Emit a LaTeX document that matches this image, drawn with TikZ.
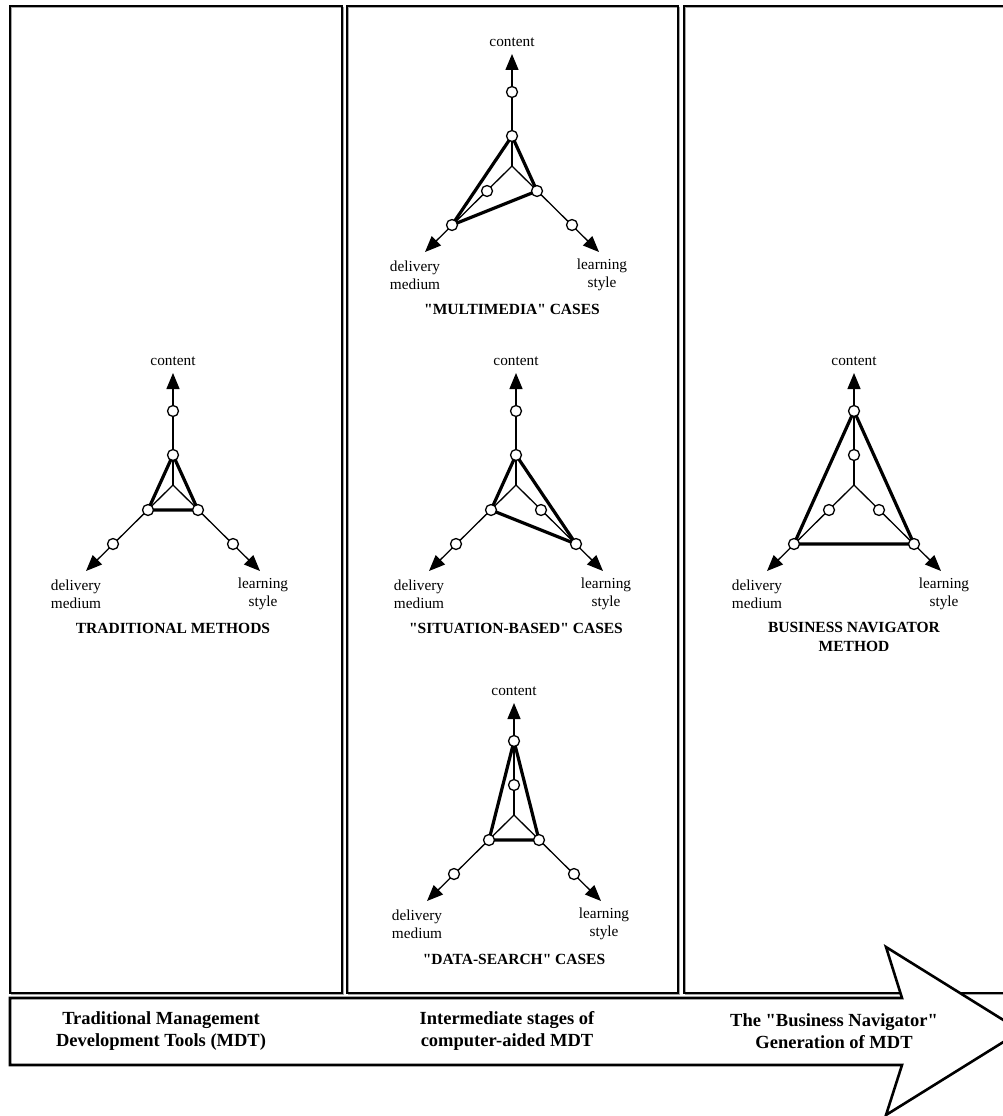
\documentclass[tikz,border=0pt]{standalone}
\usepackage{fontspec}
% a family without TeX ligature mapping, so " stays a straight quote
\newfontfamily\tnr{Liberation Serif}
\usetikzlibrary{arrows.meta}

% One three-axis profile: name, centre x, centre y, content level,
% delivery level, learning level, caption, caption offset
\newcommand\radarplot[8]{%
\begin{scope}[shift={(#2,#3)}]
  \coordinate (#1-o) at (0,0);
  \coordinate (#1-c1) at (0,-30);  \coordinate (#1-c2) at (0,-74);  \coordinate (#1-ct) at (0,-112);
  \coordinate (#1-d1) at (-25,25); \coordinate (#1-d2) at (-60,59); \coordinate (#1-dt) at (-87,86);
  \coordinate (#1-l1) at (25,25);  \coordinate (#1-l2) at (60,59);  \coordinate (#1-lt) at (87,86);
  \draw[axistip] (#1-o) -- (#1-ct);
  \draw[axistip] (#1-o) -- (#1-dt);
  \draw[axistip] (#1-o) -- (#1-lt);
  \draw[tri] (#1-c#4) -- (#1-d#5) -- (#1-l#6) -- cycle;
  \foreach \p in {c1,c2,d1,d2,l1,l2} \node[dot] (#1-\p-dot) at (#1-\p) {};
  \node[lbl] (#1-content) at (0,-124) {content};
  \node[lbl] (#1-delivery) at (-97,109) {delivery\\medium};
  \node[lbl] (#1-learning) at (90,109) {learning\\style};
  \node[ttl] (#1-title) at (0,#8) {#7};
\end{scope}}

\begin{document}
\begin{tikzpicture}[x=1pt,y=-1pt,
  panel/.style={line width=1.8pt},
  panelshade/.style={line width=1.6pt, black!35},
  axis/.style={line width=1.3pt},
  axistip/.style={axis,-{Triangle[length=16pt,width=13pt]}},
  tri/.style={line width=3.2pt, line join=round},
  dot/.style={circle, draw, fill=white, line width=1.3pt, minimum size=11pt, inner sep=0pt},
  lbl/.style={font=\tnr\fontsize{15.3}{18}\selectfont, align=center, inner sep=0pt},
  ttl/.style={font=\tnr\fontsize{15.5}{19}\selectfont\bfseries, align=center, inner sep=0pt},
  stage/.style={font=\tnr\fontsize{18.5}{22}\selectfont\bfseries, align=center, inner sep=0pt},
  bigarrow/.style={draw, fill=white, line width=2.6pt, line join=miter}
]
\useasboundingbox (0,0) rectangle (1003,1116);
\fill[white] (0,0) rectangle (1003,1116);

% stage panels
\foreach \a/\b in {10/342, 347/678, 684/1030} {
  \draw[panelshade, shift={(1.5,1.5)}] (\a,6) rectangle (\b,993);
  \draw[panel] (\a,6) rectangle (\b,993);
}

% profiles
\radarplot{trad}{173}{485}{1}{1}{1}{TRADITIONAL METHODS}{143}
\radarplot{mm}{512}{166}{1}{2}{1}{"MULTIMEDIA" CASES}{143}
\radarplot{sit}{516}{485}{1}{1}{2}{"SITUATION-BASED" CASES}{143}
\radarplot{data}{514}{815}{2}{1}{1}{"DATA-SEARCH" CASES}{144}
\radarplot{bn}{854}{485}{2}{2}{2}{BUSINESS NAVIGATOR\\METHOD}{152}

% timeline arrow
\draw[bigarrow] (10,998) -- (902,998) -- (886,947) -- (1021,1031) -- (886,1115) -- (902,1065) -- (10,1065) -- cycle;
\node[stage] (stage1) at (161,1031) {Traditional Management\\Development Tools (MDT)};
\node[stage] (stage2) at (507,1031) {Intermediate stages of\\computer-aided MDT};
\node[stage] (stage3) at (834,1031) {The "Business Navigator"\\Generation of MDT};
\end{tikzpicture}
\end{document}
